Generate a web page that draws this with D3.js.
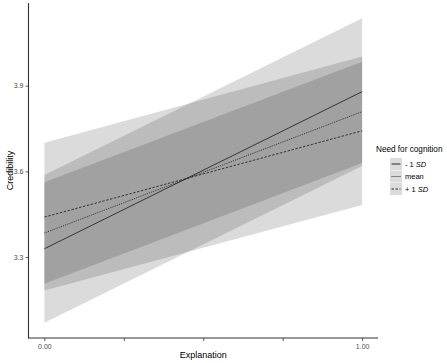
<!DOCTYPE html>
<html>
<head>
<meta charset="utf-8">
<script src="https://cdn.jsdelivr.net/npm/d3@7"></script>
<style>
	body { margin: 0; background: #fff; }
	text { font-family: "Liberation Sans", Arial, sans-serif; }
</style>
</head>
<body>
<svg width="447" height="363"></svg>
<script>
// explanation: 0 and 1
let xValues = [0, 1]
let groups = ['- 1 SD', 'mean', '+ 1 SD']
// fitted credibility at x = 0 and x = 1
let fitLow = [3.329, 3.879]
let fitMean = [3.384, 3.809]
let fitHigh = [3.440, 3.742]
// confidence bands (lower, upper) at x = 0 and x = 1
let lowerLow = [3.070, 3.619]
let upperLow = [3.587, 4.136]
let lowerMean = [3.207, 3.629]
let upperMean = [3.562, 3.984]
let lowerHigh = [3.183, 3.482]
let upperHigh = [3.700, 4.002]
let xTicks = [0, 0.25, 0.5, 0.75, 1]
let xTickLabels = ['0.00', '', '', '', '1.00']
let yTicks = [3.3, 3.6, 3.9]

let series = [
	{ key: 'low', fit: fitLow, lo: lowerLow, hi: upperLow, dash: null },
	{ key: 'mean', fit: fitMean, lo: lowerMean, hi: upperMean, dash: '1,1' },
	{ key: 'high', fit: fitHigh, lo: lowerHigh, hi: upperHigh, dash: '2.5,1.5' }
]

let svg = d3.select('svg')
let panelLeft = 28.5, panelRight = 378, panelTop = 3, panelBottom = 338

let allY = [].concat(lowerLow, upperLow, lowerMean, upperMean, lowerHigh, upperHigh)
let yMin = d3.min(allY), yMax = d3.max(allY)
let pad = (yMax - yMin) * 0.05

let xScale = d3.scaleLinear().domain([-0.05, 1.05]).range([panelLeft, panelRight])
let yScale = d3.scaleLinear().domain([yMin - pad, yMax + pad]).range([panelBottom, panelTop])

// ribbons
let area = d3.area()
	.x((d, i) => xScale(xValues[i]))
	.y0(d => yScale(d[0]))
	.y1(d => yScale(d[1]))

svg.append('g').selectAll('path')
	.data(series)
	.enter()
	.append('path')
	.attr('d', s => area(xValues.map((x, i) => [s.lo[i], s.hi[i]])))
	.attr('fill', '#000')
	.attr('fill-opacity', 0.14)

// fitted lines
let line = d3.line()
	.x((d, i) => xScale(xValues[i]))
	.y(d => yScale(d))

svg.append('g').selectAll('path')
	.data(series)
	.enter()
	.append('path')
	.attr('d', s => line(s.fit))
	.attr('fill', 'none')
	.attr('stroke', '#1a1a1a')
	.attr('stroke-width', 0.8)
	.attr('stroke-dasharray', s => s.dash)

// axes
let xAxis = d3.axisBottom(xScale)
	.tickValues(xTicks)
	.tickFormat((d, i) => xTickLabels[i])
	.tickSizeInner(3)
	.tickSizeOuter(0)
	.tickPadding(3)
let xAxisG = svg.append('g')
	.attr('transform', `translate(0, ${panelBottom})`)
	.call(xAxis)
xAxisG.select('.domain').attr('d', `M${panelLeft - 0.5},0H${panelRight}`)

let yAxis = d3.axisLeft(yScale)
	.tickValues(yTicks)
	.tickFormat(d3.format('.1f'))
	.tickSizeInner(3)
	.tickSizeOuter(0)
	.tickPadding(2)
let yAxisG = svg.append('g')
	.attr('transform', `translate(${panelLeft}, 0)`)
	.call(yAxis)
yAxisG.select('.domain').attr('d', `M0,${panelTop}V${panelBottom + 0.5}`)

svg.selectAll('.domain').attr('stroke', '#333').attr('stroke-width', 1.1)
svg.selectAll('.tick line').attr('stroke', '#333').attr('stroke-width', 0.8)
svg.selectAll('.tick text')
	.attr('fill', '#4d4d4d')
	.style('font-size', '7px')
	.style('font-family', '"Liberation Sans", Arial, sans-serif')

// axis titles
svg.append('text')
	.attr('x', (xScale(0) + xScale(1)) / 2)
	.attr('y', 358)
	.attr('text-anchor', 'middle')
	.style('font-size', '9px')
	.text('Explanation')

svg.append('text')
	.attr('transform', `translate(13, ${(panelTop + panelBottom) / 2}) rotate(-90)`)
	.attr('text-anchor', 'middle')
	.style('font-size', '9px')
	.text('Credibility')

// legend
let legend = svg.append('g').attr('transform', 'translate(376, 0)')
legend.append('text')
	.attr('x', 0)
	.attr('y', 152)
	.style('font-size', '8.2px')
	.text('Need for cognition')

let keys = legend.selectAll('g.key')
	.data(series)
	.enter()
	.append('g')
	.attr('class', 'key')
	.attr('transform', (d, i) => `translate(14, ${158 + i * 12.5})`)

keys.append('rect')
	.attr('width', 12)
	.attr('height', 12)
	.attr('fill', '#000')
	.attr('fill-opacity', 0.14)

keys.append('line')
	.attr('x1', 1.5).attr('x2', 10.5)
	.attr('y1', 6).attr('y2', 6)
	.attr('stroke', '#1a1a1a')
	.attr('stroke-width', 0.9)
	.attr('stroke-dasharray', s => s.dash)

let labels = keys.append('text')
	.attr('x', 15)
	.attr('y', 8.8)
	.style('font-size', '7.5px')

labels.each(function (s, i) {
	let t = d3.select(this)
	let g = groups[i]
	if (g.endsWith('SD')) {
		t.append('tspan').text(g.slice(0, -2))
		t.append('tspan').style('font-style', 'italic').text('SD')
	} else {
		t.text(g)
	}
})
</script>
</body>
</html>
